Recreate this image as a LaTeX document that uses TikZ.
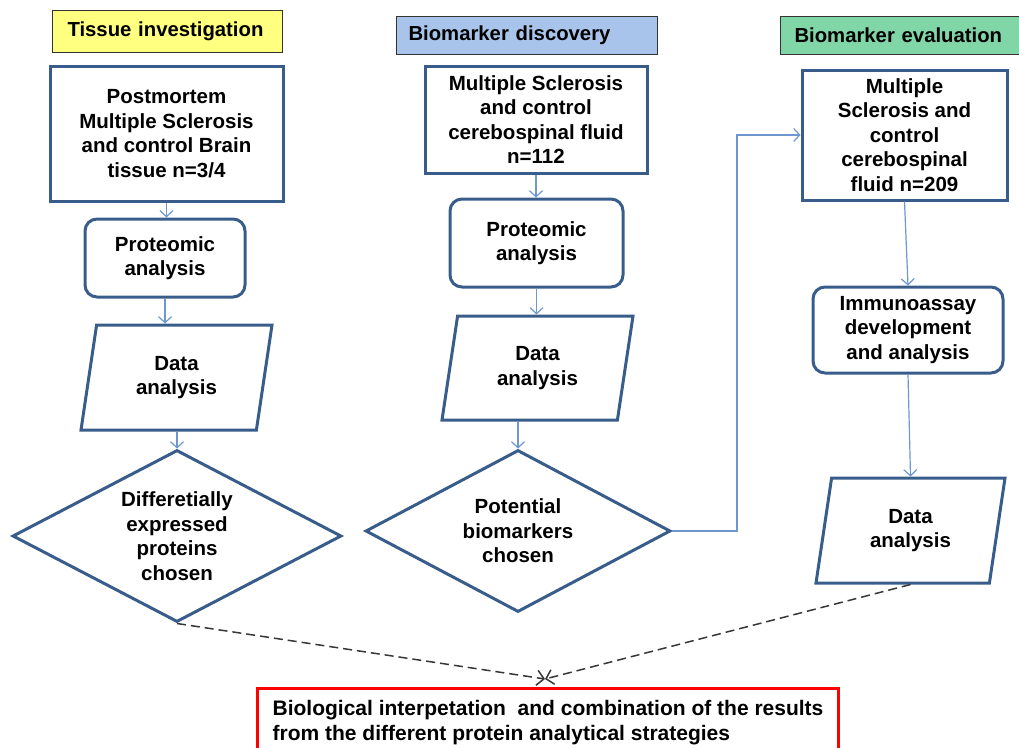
\documentclass[tikz,border=0pt]{standalone}
\usepackage{fontspec}
\setmainfont{Liberation Sans}
\usetikzlibrary{shapes.geometric,arrows.meta}
\definecolor{boxblue}{RGB}{56,93,138}
\definecolor{flowblue}{RGB}{111,151,207}
\definecolor{headyellow}{RGB}{255,255,128}
\definecolor{headblue}{RGB}{169,196,235}
\definecolor{headgreen}{RGB}{128,214,166}
\definecolor{dashgray}{RGB}{55,55,55}
\tikzset{
  txt/.style={font=\bfseries\fontsize{20.5}{24.5}\selectfont,align=center,inner sep=0pt},
  header/.style={draw=black!80,line width=1pt,anchor=north west,align=left,
    font=\bfseries\fontsize{20.3}{24}\selectfont},
  sample/.style={txt,draw=boxblue,line width=3pt,rectangle},
  roundbox/.style={txt,draw=boxblue,line width=3pt,rectangle,rounded corners=12pt},
  databox/.style={txt,draw=boxblue,line width=3pt,trapezium,trapezium left angle=70,
    trapezium right angle=110,trapezium stretches body},
  choice/.style={txt,draw=boxblue,line width=3pt,diamond,shape aspect=1.9},
  flow/.style={draw=flowblue,line width=1.2pt,-{Straight Barb[length=6pt,width=13pt]}},
  merge/.style={draw=dashgray,line width=1.5pt,dash pattern=on 9pt off 5pt,
    -{Straight Barb[length=7pt,width=15pt]}}
}
\begin{document}
\begin{tikzpicture}[x=1pt,y=-1pt]
\pgfmathsetmacro{\xa}{166.5}
\pgfmathsetmacro{\xb}{536}
\pgfmathsetmacro{\xc}{904.5}
\useasboundingbox (0,0) rectangle (1019,747);
  \node[header,fill=headyellow,inner xsep=15pt,text width=200pt,minimum height=42pt] (tissue) at (52,10) {Tissue investigation};
  \node[header,fill=headblue,inner xsep=12pt,text width=237pt,minimum height=38pt] (discovery) at (396,16) {Biomarker discovery};
  \node[header,fill=headgreen,inner xsep=14pt,text width=240pt,minimum height=38pt] (evaluation) at (780,16) {Biomarker evaluation};

  \node[sample,minimum width=233pt,minimum height=135pt] (brain) at (\xa,133.5) {Postmortem\\Multiple Sclerosis\\and control Brain\\tissue n=3/4};
  \node[roundbox,minimum width=160pt,minimum height=78pt] (prot1) at (165,258) {Proteomic\\analysis};
  \node[databox,minimum width=191pt,minimum height=105pt] (data1) at (176.5,377.5) {Data\\analysis};
  \node[choice,minimum width=329pt,minimum height=172pt] (diff) at (177,536) {Differetially\\expressed\\proteins\\chosen};

  \node[sample,minimum width=222pt,minimum height=107pt] (csf1) at (\xb,119.5) {Multiple Sclerosis\\and control\\cerebospinal fluid\\n=112};
  \node[roundbox,minimum width=173pt,minimum height=88pt] (prot2) at (536.5,243) {Proteomic\\analysis};
  \node[databox,minimum width=191pt,minimum height=104pt] (data2) at (537.5,368) {Data\\analysis};
  \node[choice,minimum width=305pt,minimum height=162pt] (pot) at (518,531) {Potential\\biomarkers\\chosen};

  \node[sample,minimum width=205pt,minimum height=130pt] (csf2) at (\xc,135) {Multiple\\Sclerosis and\\control\\cerebospinal\\fluid n=209};
  \node[roundbox,minimum width=190pt,minimum height=86pt] (immuno) at (908,330) {Immunoassay\\development\\and analysis};
  \node[databox,minimum width=189pt,minimum height=105pt] (data3) at (910.5,530.5) {Data\\analysis};

  \node[draw=red,line width=3pt,anchor=north west,align=left,minimum width=581pt,inner xsep=11pt,inner ysep=5pt,
    minimum height=80pt,font=\bfseries\fontsize{21}{24.5}\selectfont,anchor=north west] (result) at (256,687)
    {\rule{0pt}{22pt}Biological interpetation\ \ and combination of the results\\from the different protein analytical strategies\\[10pt]};
  \coordinate (meet) at (545,679);

  \draw[flow] (brain.south) -- (brain.south |- prot1.north);
  \draw[flow] (prot1.south) -- (prot1.south |- data1.north);
  \draw[flow] (diff.north |- data1.south) -- (diff.north);
  \draw[flow] (csf1.south) -- (csf1.south |- prot2.north);
  \draw[flow] (prot2.south) -- (prot2.south |- data2.north);
  \draw[flow] (pot.north |- data2.south) -- (pot.north);
  \draw[flow] (pot.east) -- ++(65,0) |- (csf2.west);
  \draw[flow] (csf2.south) -- (immuno.north);
  \draw[flow] (immuno.south) -- (data3.north);
  \draw[merge] (diff.south) -- (meet);
  \draw[merge] (data3.south) -- (meet);
\end{tikzpicture}
\end{document}
